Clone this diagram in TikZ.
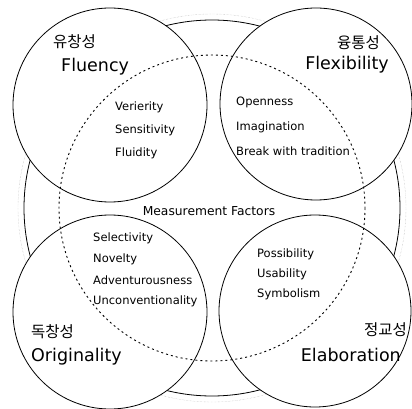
\documentclass[tikz,border=0pt]{standalone}
\usepackage{fontspec}
\setmainfont{DejaVu Sans}
\newfontfamily\kor{Noto Sans CJK KR}
\tikzset{
  factor/.style={circle,draw,thick,fill=white},
  item/.style={anchor=west,inner sep=0pt,font=\fontsize{11.5}{13}\selectfont},
  kname/.style={inner sep=0pt,font=\kor\fontsize{15.5}{17}\selectfont},
  ename/.style={inner sep=0pt,font=\fontsize{17.5}{19}\selectfont}
}
\begin{document}
\begin{tikzpicture}[x=1pt,y=-1pt,line join=round]
  \useasboundingbox (0,0) rectangle (412,409);
  % 중심과 네 원의 중심
  \coordinate (O) at (212,208);
  \coordinate (FL) at (110,105);
  \coordinate (FX) at (316,104);
  \coordinate (OR) at (110,312);
  \coordinate (EL) at (315,311);

  % 바깥 이중 원
  \draw[gray!60,densely dotted] (O) circle[radius=194];
  \draw[thick] (O) circle[radius=188];

  % 네 개의 원
  \draw[thick,fill=white] (FL) circle[radius=97];
  \draw[thick,fill=white] (FX) circle[radius=96];
  \draw[thick,fill=white] (OR) circle[radius=97];
  \draw[thick,fill=white] (EL) circle[radius=96];

  % 안쪽 점선 원
  \draw[line width=0.9pt,dash pattern=on 2pt off 3pt] (O) circle[radius=153];

  % 유창성
  \node[kname,anchor=west] (flk) at (53,42) {유창성};
  \node[ename,anchor=west] (fle) at (61,67) {Fluency};
  \node[item] (v1) at (115,107) {Verierity};
  \node[item] (v2) at (115,130) {Sensitivity};
  \node[item] (v3) at (115,153) {Fluidity};

  % 융통성
  \node[kname,anchor=east] (fxk) at (380,43) {융통성};
  \node[ename,anchor=east] (fxe) at (389,65) {Flexibility};
  \node[item] (x1) at (236,102) {Openness};
  \node[item] (x2) at (236,127) {Imagination};
  \node[item] (x3) at (236,151) {Break with tradition};

  % 가운데 제목
  \node[inner sep=0pt,font=\fontsize{12.3}{14}\selectfont] (mf) at (209,211) {Measurement Factors};

  % 독창성
  \node[item] (o1) at (93,238) {Selectivity};
  \node[item] (o2) at (93,259) {Novelty};
  \node[item] (o3) at (93,280) {Adventurousness};
  \node[item] (o4) at (93,301) {Unconventionality};
  \node[kname,anchor=west] (ork) at (31,332) {독창성};
  \node[ename,anchor=west] (ore) at (31,357) {Originality};

  % 정교성
  \node[item] (e1) at (257,254) {Possibility};
  \node[item] (e2) at (257,274) {Usability};
  \node[item] (e3) at (257,294) {Symbolism};
  \node[kname,anchor=east] (elk) at (407,330) {정교성};
  \node[ename,anchor=east] (ele) at (401,355) {Elaboration};
\end{tikzpicture}
\end{document}
